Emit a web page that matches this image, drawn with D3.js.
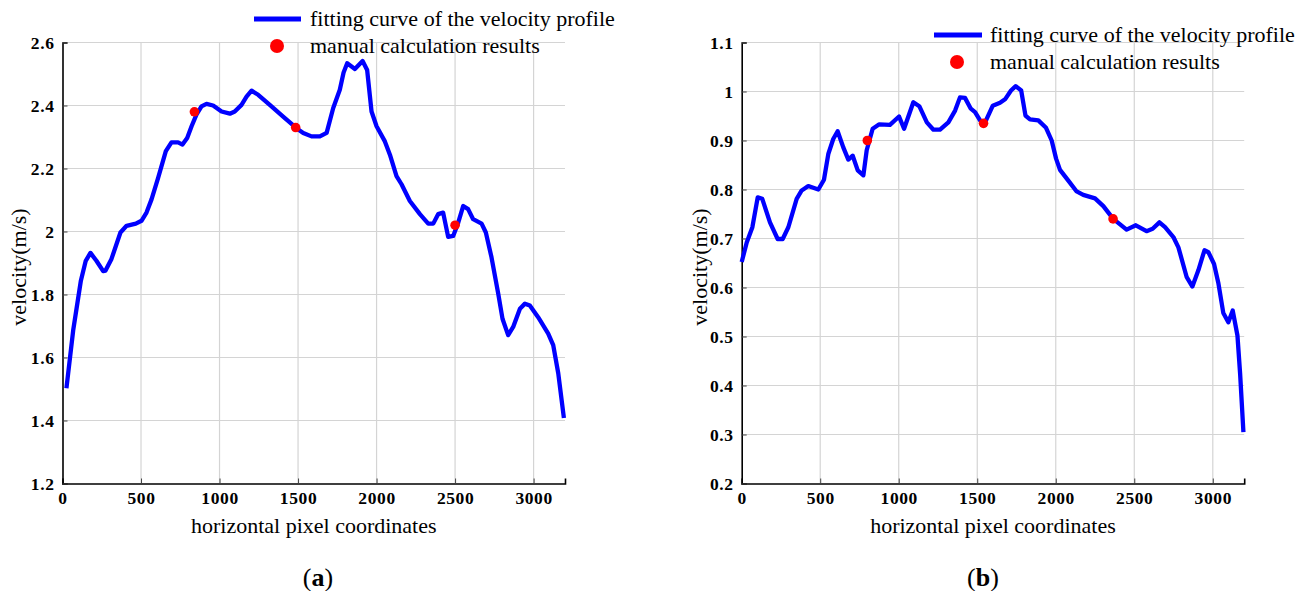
<!DOCTYPE html>
<html>
<head>
<meta charset="utf-8">
<script src="https://cdn.jsdelivr.net/npm/d3@7/dist/d3.min.js"></script>
<style>
  html, body { margin: 0; padding: 0; background: #fff; }
  svg { display: block; }
  text { font-family: "Liberation Serif", "Times New Roman", serif; fill: #000; }
</style>
</head>
<body>
<svg id="chart" width="1312" height="591"></svg>
<script>
// Panel (a): fitted velocity profile, x in pixels, velocity in m/s
const xA = [25, 68, 117, 148, 178, 216, 259, 274, 312, 369, 408, 467, 503, 535, 567, 609, 658, 694, 736, 764, 794, 822, 853, 885, 917, 959, 1013, 1066, 1097, 1140, 1172, 1204, 1246, 1320, 1405, 1490, 1533, 1586, 1639, 1682, 1724, 1766, 1790, 1813, 1862, 1911, 1940, 1968, 2000, 2053, 2085, 2127, 2159, 2212, 2276, 2329, 2361, 2392, 2424, 2456, 2488, 2520, 2552, 2583, 2615, 2669, 2696, 2732, 2775, 2802, 2838, 2870, 2913, 2945, 2976, 3029, 3093, 3125, 3157, 3193];
const vA = [1.502, 1.686, 1.844, 1.907, 1.932, 1.907, 1.874, 1.876, 1.913, 1.997, 2.018, 2.025, 2.034, 2.060, 2.102, 2.170, 2.255, 2.283, 2.283, 2.276, 2.297, 2.334, 2.371, 2.397, 2.405, 2.400, 2.381, 2.374, 2.381, 2.402, 2.428, 2.447, 2.434, 2.402, 2.365, 2.328, 2.313, 2.302, 2.302, 2.313, 2.392, 2.450, 2.505, 2.534, 2.516, 2.541, 2.513, 2.381, 2.334, 2.286, 2.244, 2.176, 2.150, 2.097, 2.055, 2.025, 2.025, 2.055, 2.060, 1.983, 1.986, 2.028, 2.081, 2.071, 2.039, 2.025, 1.997, 1.918, 1.802, 1.723, 1.671, 1.697, 1.755, 1.771, 1.765, 1.728, 1.676, 1.639, 1.550, 1.408];
// Panel (a): hand-calculated velocities
const manualXA = [840, 1485, 2500];
const manualVA = [2.38, 2.33, 2.02];

// Panel (b)
const xB = [0, 32, 68, 102, 131, 180, 229, 261, 297, 350, 382, 424, 488, 524, 552, 583, 611, 647, 679, 707, 739, 775, 796, 834, 876, 944, 1002, 1034, 1093, 1131, 1179, 1221, 1263, 1316, 1359, 1390, 1422, 1459, 1486, 1518, 1550, 1599, 1645, 1677, 1715, 1745, 1780, 1807, 1836, 1889, 1938, 1974, 2002, 2027, 2080, 2133, 2175, 2250, 2303, 2366, 2451, 2510, 2578, 2617, 2660, 2696, 2749, 2781, 2834, 2870, 2908, 2947, 2972, 3008, 3036, 3067, 3099, 3127, 3157, 3174, 3195];
const vB = [0.652, 0.692, 0.723, 0.784, 0.781, 0.733, 0.699, 0.699, 0.723, 0.781, 0.798, 0.807, 0.800, 0.820, 0.873, 0.903, 0.919, 0.886, 0.861, 0.869, 0.839, 0.829, 0.880, 0.924, 0.933, 0.932, 0.949, 0.924, 0.978, 0.970, 0.937, 0.922, 0.922, 0.937, 0.961, 0.988, 0.987, 0.965, 0.958, 0.941, 0.937, 0.971, 0.977, 0.984, 1.002, 1.011, 1.002, 0.951, 0.943, 0.941, 0.926, 0.900, 0.863, 0.840, 0.818, 0.796, 0.789, 0.782, 0.766, 0.740, 0.718, 0.727, 0.715, 0.720, 0.733, 0.723, 0.703, 0.682, 0.621, 0.602, 0.635, 0.676, 0.672, 0.648, 0.608, 0.548, 0.529, 0.553, 0.502, 0.424, 0.305];
const manualXB = [800, 1540, 2365];
const manualVB = [0.90, 0.935, 0.74];

// Axis ticks
const xTicks = [0, 500, 1000, 1500, 2000, 2500, 3000];
const yTicksA = [1.2, 1.4, 1.6, 1.8, 2.0, 2.2, 2.4, 2.6];
const yTicksB = [0.2, 0.3, 0.4, 0.5, 0.6, 0.7, 0.8, 0.9, 1.0, 1.1];

const legendLine = "fitting curve of the velocity profile";
const legendDots = "manual calculation results";
const xTitle = "horizontal pixel coordinates";
const yTitle = "velocity(m/s)";

const svg = d3.select("#chart");

function panel(opt) {
  const g = svg.append("g");
  const x = d3.scaleLinear().domain([0, 3200]).range([opt.left, opt.left + 502.5]);
  const y = d3.scaleLinear().domain(opt.yDomain).range([483.5, 42.5]);

  // grid
  g.append("g").selectAll("line").data(opt.yTicks.slice(1)).join("line")
    .attr("x1", opt.left).attr("x2", x(3200))
    .attr("y1", d => y(d)).attr("y2", d => y(d))
    .attr("stroke", "#d4d4d4").attr("stroke-width", 1.2);
  g.append("g").selectAll("line").data(xTicks.slice(1)).join("line")
    .attr("x1", d => x(d)).attr("x2", d => x(d))
    .attr("y1", y(opt.yDomain[0])).attr("y2", y(opt.yDomain[1]))
    .attr("stroke", "#d4d4d4").attr("stroke-width", 1.2);

  // axes
  const fmt = d => (Math.round(d * 10) / 10).toString();
  const ax = g.append("g").attr("transform", `translate(0,${y(opt.yDomain[0])})`)
    .call(d3.axisBottom(x).tickValues(xTicks).tickSize(-5).tickPadding(8).tickFormat(d3.format("d")));
  const ay = g.append("g").attr("transform", `translate(${opt.left},0)`)
    .call(d3.axisLeft(y).tickValues(opt.yTicks).tickSize(-5).tickPadding(5).tickFormat(fmt));
  [ax, ay].forEach(a => {
    a.select(".domain").attr("stroke", "#000").attr("stroke-width", 1.6);
    a.selectAll(".tick line").attr("stroke", "#444").attr("stroke-width", 1);
    a.selectAll(".tick text").attr("font-family", "Liberation Serif, serif")
      .attr("font-size", 17.5).attr("font-weight", "bold").attr("fill", "#000")
      .attr("letter-spacing", 0.6);
  });
  ay.selectAll(".tick text").attr("dx", -3);

  // fitted curve
  const line = d3.line().x(d => x(d[0])).y(d => y(d[1])).curve(d3.curveLinear);
  g.append("path").datum(opt.xs.map((d, i) => [d, opt.vs[i]]))
    .attr("d", line).attr("fill", "none").attr("stroke", "#0000ff")
    .attr("stroke-width", 4.3).attr("stroke-linejoin", "round").attr("stroke-linecap", "butt");

  // manual points
  g.append("g").selectAll("circle").data(opt.mx.map((d, i) => [d, opt.mv[i]])).join("circle")
    .attr("cx", d => x(d[0])).attr("cy", d => y(d[1])).attr("r", 4.8).attr("fill", "#ff0000");

  // titles
  g.append("text").attr("x", (x(0) + x(3200)) / 2).attr("y", 533)
    .attr("text-anchor", "middle").attr("font-size", 22).text(xTitle);
  g.append("text").attr("transform", `translate(${opt.ylabX},267) rotate(-90)`)
    .attr("text-anchor", "middle").attr("font-size", 22).text(yTitle);

  // legend
  const L = opt.legend;
  g.append("line").attr("x1", L.x0).attr("x2", L.x1).attr("y1", L.y1).attr("y2", L.y1)
    .attr("stroke", "#0000ff").attr("stroke-width", 5);
  g.append("text").attr("x", L.tx).attr("y", L.y1 + 7).attr("font-size", 22).text(legendLine);
  g.append("circle").attr("cx", L.dx).attr("cy", L.y2).attr("r", 7).attr("fill", "#ff0000");
  g.append("text").attr("x", L.tx).attr("y", L.y2 + 7).attr("font-size", 22).text(legendDots);

  // panel tag
  const tag = g.append("text").attr("x", opt.tagX).attr("y", 586).attr("text-anchor", "middle")
    .attr("font-family", "Liberation Serif, serif").attr("font-size", 26);
  tag.append("tspan").text("(");
  tag.append("tspan").attr("font-weight", "bold").text(opt.tag);
  tag.append("tspan").text(")");
}

panel({
  left: 62.5, yDomain: [1.2, 2.6], yTicks: yTicksA, xs: xA, vs: vA,
  mx: manualXA, mv: manualVA, ylabX: 26, tag: "a", tagX: 318,
  legend: { x0: 254, x1: 301, y1: 19, tx: 310, dx: 277, y2: 46 }
});
panel({
  left: 741.7, yDomain: [0.2, 1.1], yTicks: yTicksB, xs: xB, vs: vB,
  mx: manualXB, mv: manualVB, ylabX: 707, tag: "b", tagX: 983,
  legend: { x0: 934, x1: 982, y1: 35, tx: 990, dx: 957, y2: 62 }
});
</script>
</body>
</html>
